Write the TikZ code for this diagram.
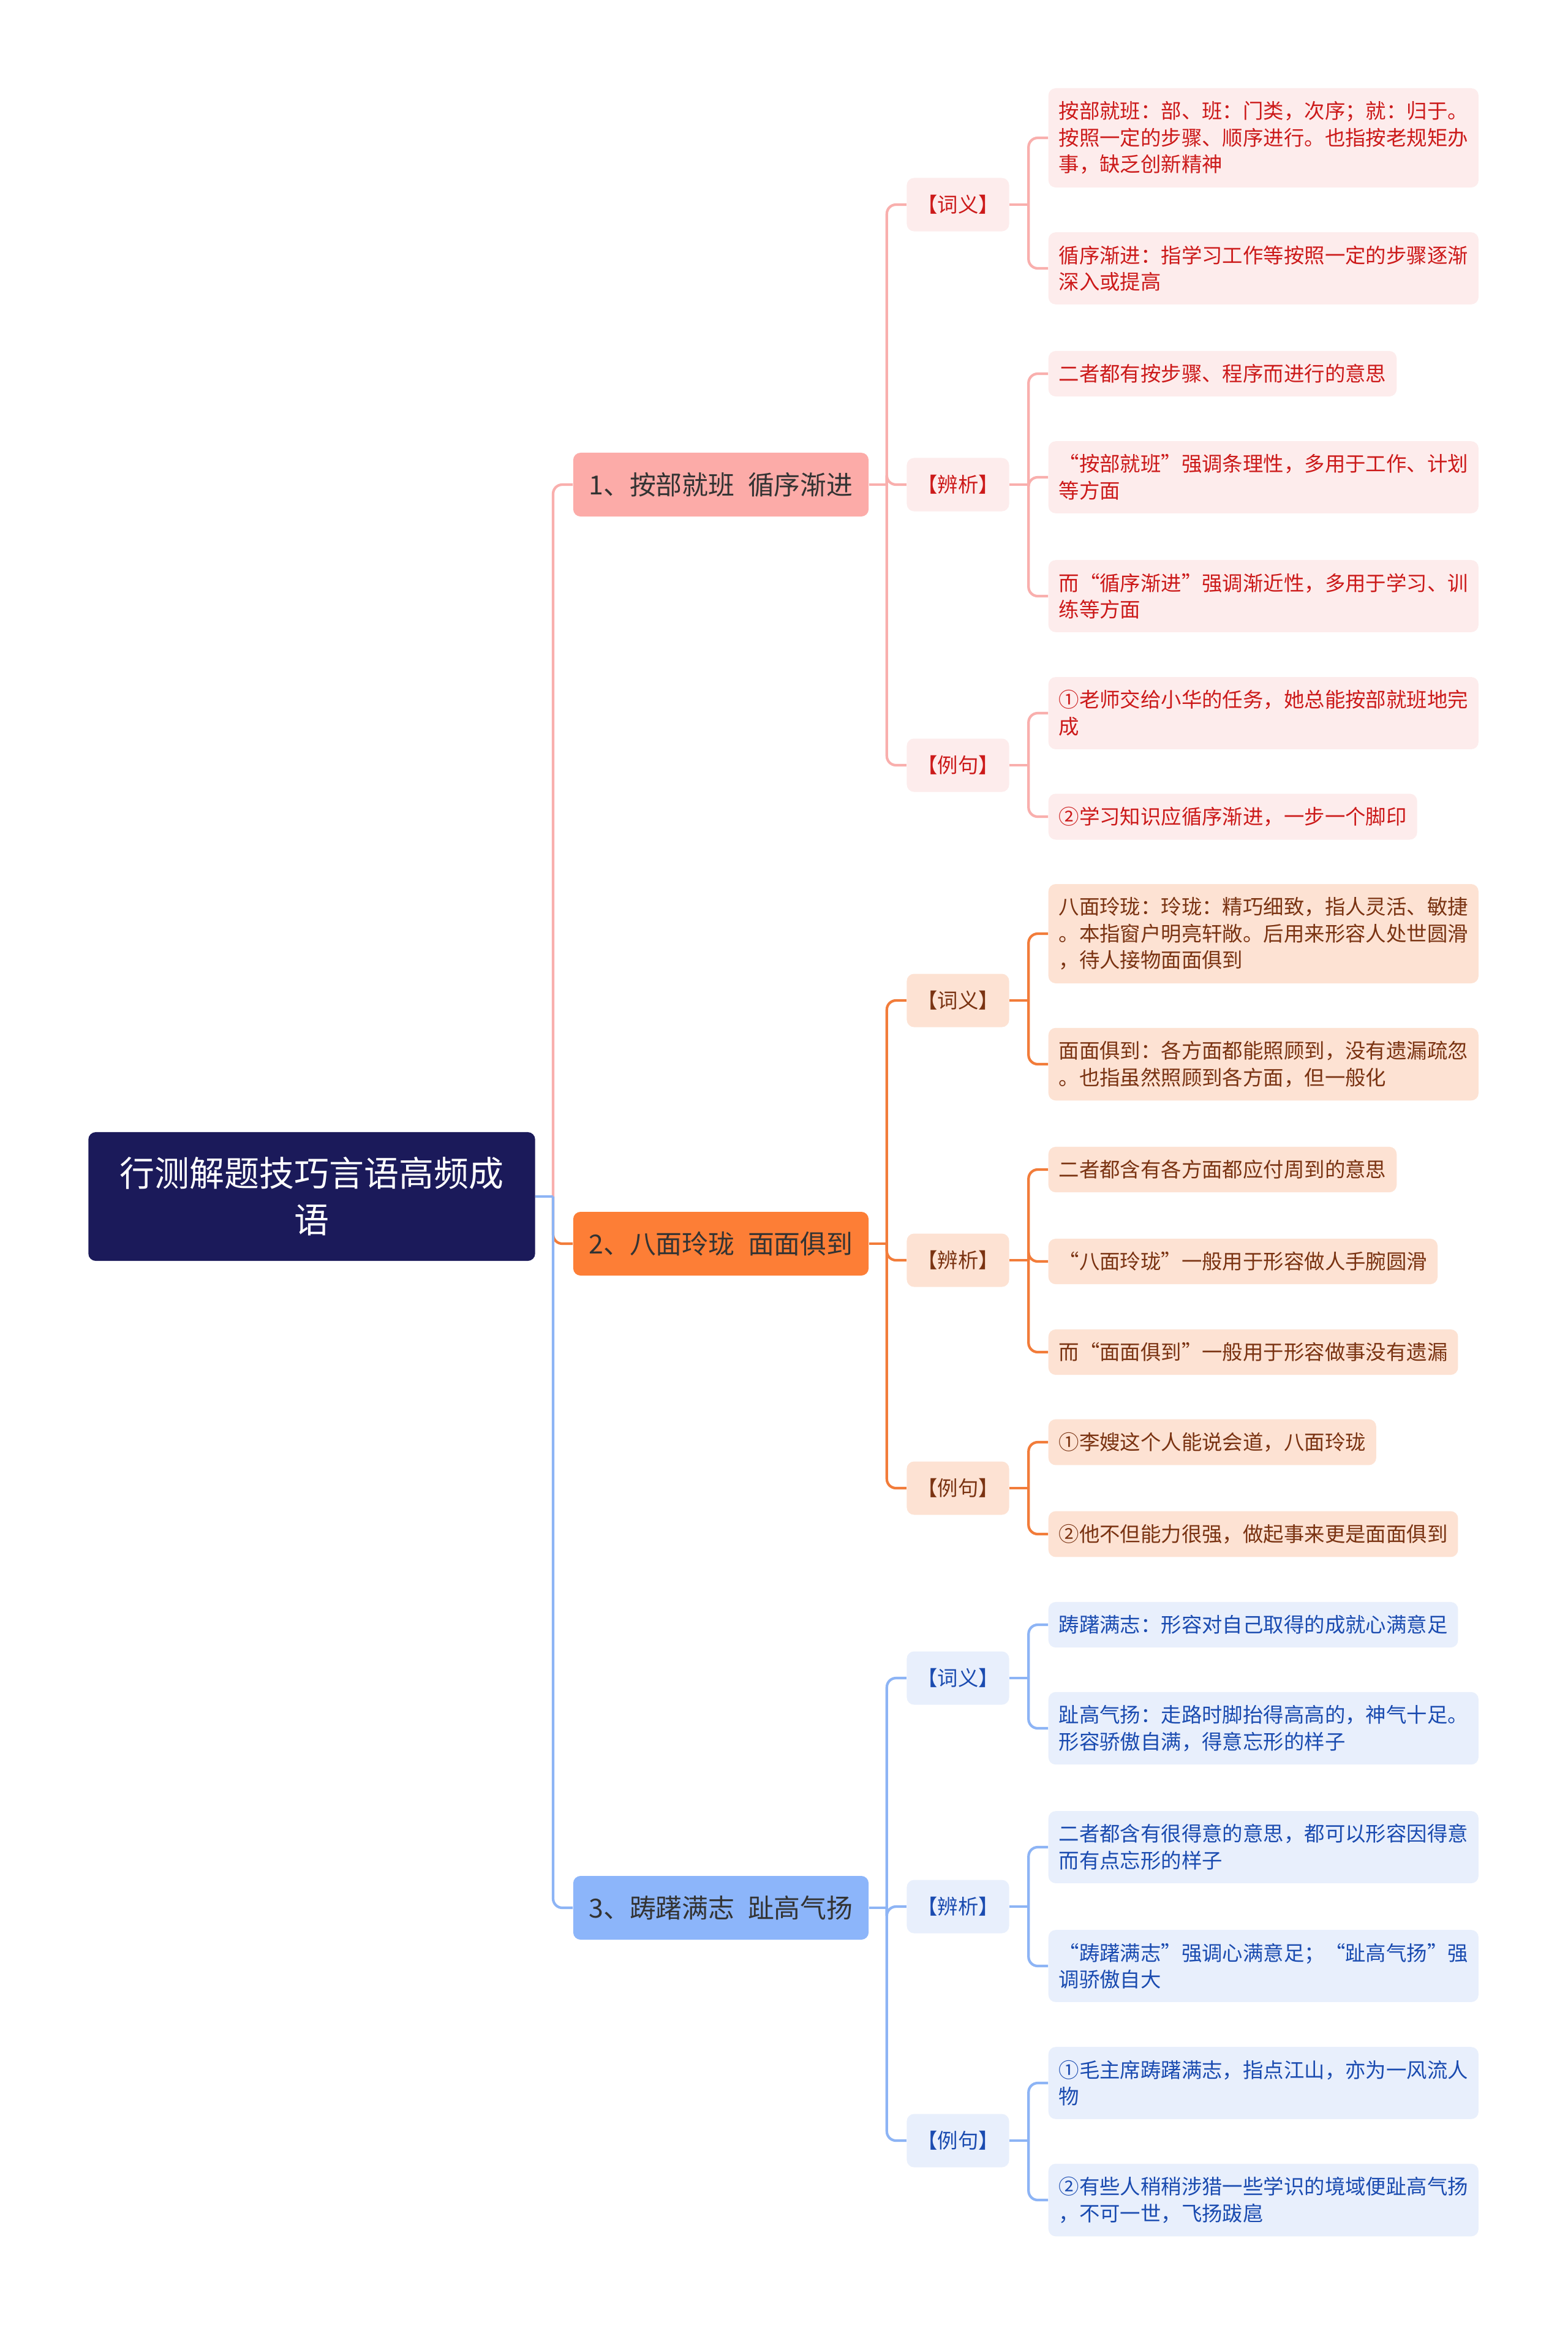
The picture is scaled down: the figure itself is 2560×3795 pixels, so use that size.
\documentclass[tikz,border=0pt]{standalone}
\usepackage{fontspec}
\setmainfont{Noto Sans CJK SC}
\definecolor{rootcol}{HTML}{1B1A5A}
\definecolor{darktext}{HTML}{333333}
\definecolor{pinkcol}{HTML}{FCABA8}
\definecolor{pinkline}{HTML}{F9AFAD}
\definecolor{pinkbg}{HTML}{FDECEC}
\definecolor{pinktext}{HTML}{CC1A1A}
\definecolor{orangecol}{HTML}{FD7E36}
\definecolor{orangeline}{HTML}{F27C3A}
\definecolor{orangebg}{HTML}{FDE2D3}
\definecolor{orangetext}{HTML}{7A3312}
\definecolor{bluecol}{HTML}{8CB5FA}
\definecolor{blueline}{HTML}{8DB4F5}
\definecolor{bluebg}{HTML}{E8EFFC}
\definecolor{bluetext}{HTML}{1A4BB0}

\begin{document}
\begin{tikzpicture}[x=0.01cm, y=-0.01cm,
  rootbox/.style={fill=rootcol, text=white, rounded corners=0.12cm, minimum width=7.29cm, minimum height=2.1cm, align=center, font=\fontsize{16.2pt}{21.6pt}\selectfont},
  topicbox/.style={rounded corners=0.12cm, minimum width=4.82cm, minimum height=1.04cm, inner sep=0pt, text=darktext, font=\fontsize{12.2pt}{14pt}\selectfont},
  tagbox/.style={rounded corners=0.12cm, minimum width=1.67cm, minimum height=0.87cm, inner sep=0pt, font=\fontsize{9.5pt}{12.4pt}\selectfont},
  leafbox/.style={anchor=west, rounded corners=0.12cm, align=left, inner xsep=0.17cm, inner ysep=0.215cm, font=\fontsize{9.5pt}{12.4pt}\selectfont},
  link/.style={line width=1.2pt},
  elbow/.style={line width=1.2pt, rounded corners=0.15cm}]

\fill[white] (0,0) rectangle (2560,3795);

% === ROOT ===
\node[rootbox] (root) at (509,1953) {行测解题技巧言语高频成\\语};
\coordinate (j0) at (903,1953);

% === BRANCH 1: pink ===
\begin{scope}[every node/.append style={fill=pinkbg, text=pinktext}]
  \node[topicbox, fill=pinkcol, text=darktext] (t1) at (1177,791) {1、按部就班\hspace{0.5em}循序渐进};
  \node[tagbox] (t1a) at (1564,334) {【词义】};
  \node[tagbox] (t1b) at (1564,791) {【辨析】};
  \node[tagbox] (t1c) at (1564,1249) {【例句】};

  \node[leafbox] (t1a1) at (1711,225) {按部就班：部、班：门类，次序；就：归于。\\按照一定的步骤、顺序进行。也指按老规矩办\\事，缺乏创新精神};
  \node[leafbox] (t1a2) at (1711,438) {循序渐进：指学习工作等按照一定的步骤逐渐\\深入或提高};
  \node[leafbox] (t1b1) at (1711,610) {二者都有按步骤、程序而进行的意思};
  \node[leafbox] (t1b2) at (1711,779) {“按部就班”强调条理性，多用于工作、计划\\等方面};
  \node[leafbox] (t1b3) at (1711,973) {而“循序渐进”强调渐近性，多用于学习、训\\练等方面};
  \node[leafbox] (t1c1) at (1711,1164) {①老师交给小华的任务，她总能按部就班地完\\成};
  \node[leafbox] (t1c2) at (1711,1333) {②学习知识应循序渐进，一步一个脚印};
\end{scope}

\draw[elbow, pinkline] (j0) |- (t1.west);
\draw[link, pinkline] (t1.east) -- ++(29,0) coordinate (j1);
\foreach \c in {t1a,t1b,t1c} \draw[elbow, pinkline] (j1) |- (\c.west);
\draw[link, pinkline] (t1a.east) -- ++(31,0) coordinate (j1a);
\foreach \l in {t1a1,t1a2} \draw[elbow, pinkline] (j1a) |- (\l.west);
\draw[link, pinkline] (t1b.east) -- ++(31,0) coordinate (j1b);
\foreach \l in {t1b1,t1b2,t1b3} \draw[elbow, pinkline] (j1b) |- (\l.west);
\draw[link, pinkline] (t1c.east) -- ++(31,0) coordinate (j1c);
\foreach \l in {t1c1,t1c2} \draw[elbow, pinkline] (j1c) |- (\l.west);

% === BRANCH 2: orange ===
\begin{scope}[every node/.append style={fill=orangebg, text=orangetext}]
  \node[topicbox, fill=orangecol, text=darktext] (t2) at (1177,2030) {2、八面玲珑\hspace{0.5em}面面俱到};
  \node[tagbox] (t2a) at (1564,1633) {【词义】};
  \node[tagbox] (t2b) at (1564,2057) {【辨析】};
  \node[tagbox] (t2c) at (1564,2429) {【例句】};

  \node[leafbox] (t2a1) at (1711,1524) {八面玲珑：玲珑：精巧细致，指人灵活、敏捷\\。本指窗户明亮轩敞。后用来形容人处世圆滑\\，待人接物面面俱到};
  \node[leafbox] (t2a2) at (1711,1737) {面面俱到：各方面都能照顾到，没有遗漏疏忽\\。也指虽然照顾到各方面，但一般化};
  \node[leafbox] (t2b1) at (1711,1909) {二者都含有各方面都应付周到的意思};
  \node[leafbox] (t2b2) at (1711,2059) {“八面玲珑”一般用于形容做人手腕圆滑};
  \node[leafbox] (t2b3) at (1711,2207) {而“面面俱到”一般用于形容做事没有遗漏};
  \node[leafbox] (t2c1) at (1711,2354) {①李嫂这个人能说会道，八面玲珑};
  \node[leafbox] (t2c2) at (1711,2504) {②他不但能力很强，做起事来更是面面俱到};
\end{scope}

\draw[elbow, orangeline] (j0) |- (t2.west);
\draw[link, orangeline] (t2.east) -- ++(29,0) coordinate (j2);
\foreach \c in {t2a,t2b,t2c} \draw[elbow, orangeline] (j2) |- (\c.west);
\draw[link, orangeline] (t2a.east) -- ++(31,0) coordinate (j2a);
\foreach \l in {t2a1,t2a2} \draw[elbow, orangeline] (j2a) |- (\l.west);
\draw[link, orangeline] (t2b.east) -- ++(31,0) coordinate (j2b);
\foreach \l in {t2b1,t2b2,t2b3} \draw[elbow, orangeline] (j2b) |- (\l.west);
\draw[link, orangeline] (t2c.east) -- ++(31,0) coordinate (j2c);
\foreach \l in {t2c1,t2c2} \draw[elbow, orangeline] (j2c) |- (\l.west);

% === BRANCH 3: blue ===
\begin{scope}[every node/.append style={fill=bluebg, text=bluetext}]
  \node[topicbox, fill=bluecol, text=darktext] (t3) at (1177,3114) {3、踌躇满志\hspace{0.5em}趾高气扬};
  \node[tagbox] (t3a) at (1564,2739) {【词义】};
  \node[tagbox] (t3b) at (1564,3112) {【辨析】};
  \node[tagbox] (t3c) at (1564,3494) {【例句】};

  \node[leafbox] (t3a1) at (1711,2652) {踌躇满志：形容对自己取得的成就心满意足};
  \node[leafbox] (t3a2) at (1711,2821) {趾高气扬：走路时脚抬得高高的，神气十足。\\形容骄傲自满，得意忘形的样子};
  \node[leafbox] (t3b1) at (1711,3015) {二者都含有很得意的意思，都可以形容因得意\\而有点忘形的样子};
  \node[leafbox] (t3b2) at (1711,3209) {“踌躇满志”强调心满意足；“趾高气扬”强\\调骄傲自大};
  \node[leafbox] (t3c1) at (1711,3400) {①毛主席踌躇满志，指点江山，亦为一风流人\\物};
  \node[leafbox] (t3c2) at (1711,3591) {②有些人稍稍涉猎一些学识的境域便趾高气扬\\，不可一世，飞扬跋扈};
\end{scope}

\draw[elbow, blueline] (j0) |- (t3.west);
\draw[link, blueline] (root.east) -- (j0);
\draw[link, blueline] (t3.east) -- ++(29,0) coordinate (j3);
\foreach \c in {t3a,t3b,t3c} \draw[elbow, blueline] (j3) |- (\c.west);
\draw[link, blueline] (t3a.east) -- ++(31,0) coordinate (j3a);
\foreach \l in {t3a1,t3a2} \draw[elbow, blueline] (j3a) |- (\l.west);
\draw[link, blueline] (t3b.east) -- ++(31,0) coordinate (j3b);
\foreach \l in {t3b1,t3b2} \draw[elbow, blueline] (j3b) |- (\l.west);
\draw[link, blueline] (t3c.east) -- ++(31,0) coordinate (j3c);
\foreach \l in {t3c1,t3c2} \draw[elbow, blueline] (j3c) |- (\l.west);

\end{tikzpicture}
\end{document}
